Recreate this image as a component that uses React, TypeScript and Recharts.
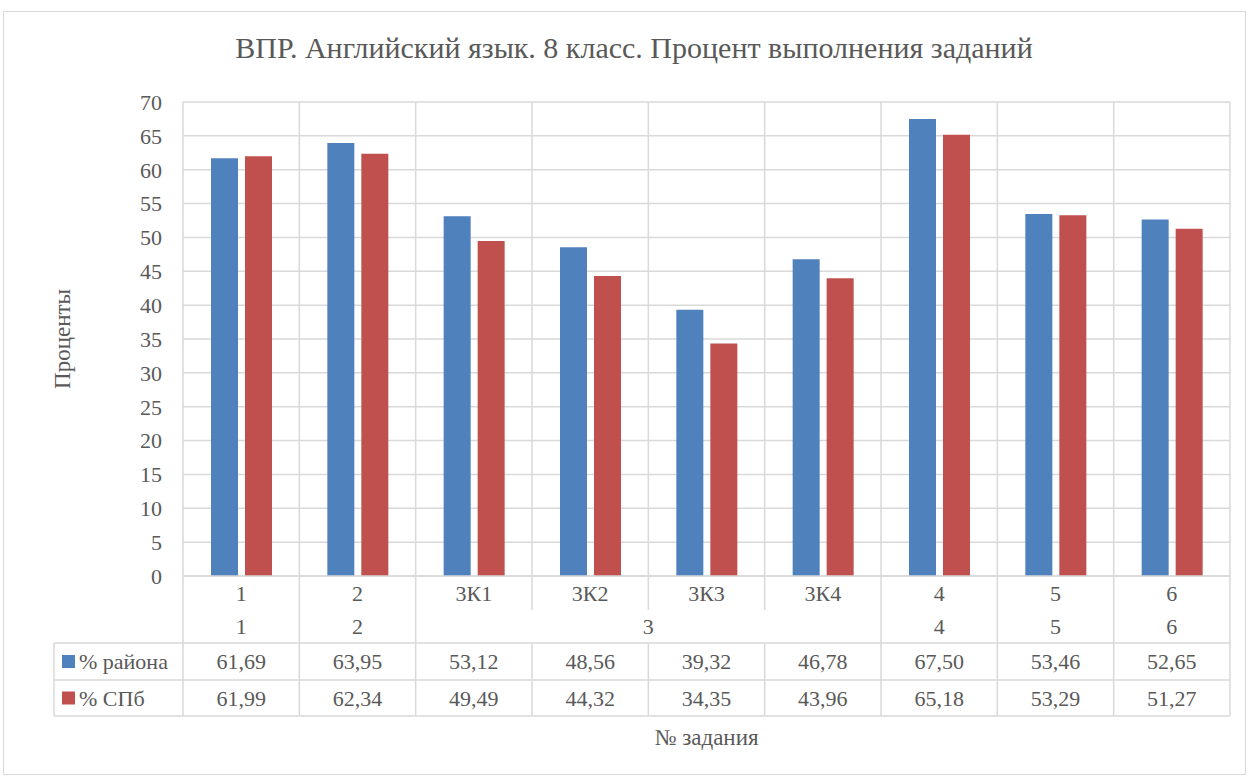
// ВПР chart: grouped bars with an Excel-style data table under the axis
import { BarChart, Bar, XAxis, YAxis, CartesianGrid } from "recharts";

const tasks = ["1", "2", "3К1", "3К2", "3К3", "3К4", "4", "5", "6"];
const taskGroups = ["1", "2", "3", "3", "3", "3", "4", "5", "6"];
const districtPct = [61.69, 63.95, 53.12, 48.56, 39.32, 46.78, 67.5, 53.46, 52.65];
const spbPct = [61.99, 62.34, 49.49, 44.32, 34.35, 43.96, 65.18, 53.29, 51.27];
const yTicks = [0, 5, 10, 15, 20, 25, 30, 35, 40, 45, 50, 55, 60, 65, 70];

const seriesNames = ["% района", "% СПб"];
const BLUE = "#4F81BD";
const RED = "#C0504D";
const GRID = "#d9d9d9";
const TEXT = "#595959";
const FONT = "'Liberation Serif', Tinos, 'DejaVu Serif', 'Noto Serif', serif";

const W = 1248;
const H = 776;
const M = { top: 102, right: 18, bottom: 60, left: 103 };
const Y_AXIS_W = 80;
const PLOT_LEFT = M.left + Y_AXIS_W;
const PLOT_W = W - PLOT_LEFT - M.right;
const BAND = PLOT_W / tasks.length;

const data = tasks.map((t, i) => ({
  task: t,
  group: taskGroups[i],
  district: districtPct[i],
  spb: spbPct[i],
}));

const fmt = (v: number) => v.toFixed(2).replace(".", ",");

// table row edges, relative to the axis line
const ROW1 = 34;
const ROW2 = 67;
const ROW3 = 104;
const ROW4 = 140;

function TableTick(props: any) {
  const { x, y, payload } = props;
  const i = tasks.indexOf(payload.value);
  const left = x - BAND / 2;
  const right = x + BAND / 2;
  const line = { stroke: GRID, strokeWidth: 1.5 };
  const txt = { fill: TEXT, fontSize: 22, fontFamily: FONT, textAnchor: "middle" as const, dy: "0.35em" };
  const groupStart = i === 0 || taskGroups[i] !== taskGroups[i - 1];
  let groupEnd = i;
  while (groupEnd + 1 < tasks.length && taskGroups[groupEnd + 1] === taskGroups[i]) groupEnd++;
  const last = i === tasks.length - 1;

  return (
    <g>
      {/* row 1: task labels */}
      {i === 0 && <line x1={left} x2={left} y1={y} y2={y + ROW1} {...line} />}
      <line x1={right} x2={right} y1={y} y2={y + ROW1} {...line} />
      <text x={x} y={y + ROW1 / 2} {...txt}>{tasks[i]}</text>
      {/* row 2: task groups */}
      {groupStart && <line x1={left} x2={left} y1={y + ROW1} y2={y + ROW2} {...line} />}
      {last && <line x1={right} x2={right} y1={y + ROW1} y2={y + ROW2} {...line} />}
      {groupStart && (
        <text x={left + ((groupEnd - i + 1) * BAND) / 2} y={y + (ROW1 + ROW2) / 2} {...txt}>
          {taskGroups[i]}
        </text>
      )}
      {/* data rows */}
      <line x1={left} x2={right} y1={y + ROW2} y2={y + ROW2} {...line} />
      <line x1={left} x2={right} y1={y + ROW3} y2={y + ROW3} {...line} />
      <line x1={left} x2={right} y1={y + ROW4} y2={y + ROW4} {...line} />
      {i === 0 && <line x1={left} x2={left} y1={y + ROW2} y2={y + ROW4} {...line} />}
      <line x1={right} x2={right} y1={y + ROW2} y2={y + ROW4} {...line} />
      <text x={x} y={y + (ROW2 + ROW3) / 2} {...txt}>{fmt(districtPct[i])}</text>
      <text x={x} y={y + (ROW3 + ROW4) / 2} {...txt}>{fmt(spbPct[i])}</text>
      {/* header column with legend keys */}
      {i === 0 && (
        <g>
          <line x1={54} x2={left} y1={y + ROW2} y2={y + ROW2} {...line} />
          <line x1={54} x2={left} y1={y + ROW3} y2={y + ROW3} {...line} />
          <line x1={54} x2={left} y1={y + ROW4} y2={y + ROW4} {...line} />
          <line x1={54} x2={54} y1={y + ROW2} y2={y + ROW4} {...line} />
          {[BLUE, RED].map((c, k) => {
            const cy = y + (k === 0 ? (ROW2 + ROW3) / 2 : (ROW3 + ROW4) / 2);
            return (
              <g key={c}>
                <rect x={62} y={cy - 6.5} width={13} height={13} fill={c} />
                <text x={79} y={cy} fill={TEXT} fontSize={22} fontFamily={FONT} dy="0.35em">
                  {seriesNames[k]}
                </text>
              </g>
            );
          })}
        </g>
      )}
    </g>
  );
}

function YLabel() {
  const cx = 62;
  const cy = (M.top + (H - M.bottom - 140)) / 2;
  return (
    <text
      x={cx}
      y={cy}
      transform={`rotate(-90 ${cx} ${cy})`}
      textAnchor="middle"
      dy="0.35em"
      fill={TEXT}
      fontSize={23}
      fontFamily={FONT}
    >
      Проценты
    </text>
  );
}

export default function App() {
  return (
    <div style={{ position: "absolute", left: 0, top: 0, width: W, height: H, background: "#fff", fontFamily: FONT }}>
      <div
        style={{
          position: "absolute",
          left: 3,
          top: 11,
          width: 1241,
          height: 762,
          border: `1px solid ${GRID}`,
        }}
      />
      <div
        style={{
          position: "absolute",
          left: 10,
          width: W,
          top: 31,
          textAlign: "center",
          fontSize: 30,
          color: TEXT,
        }}
      >
        ВПР. Английский язык. 8 класс. Процент выполнения заданий
      </div>
      <div
        style={{
          position: "absolute",
          left: PLOT_LEFT,
          width: PLOT_W,
          top: 725,
          textAlign: "center",
          fontSize: 23,
          color: TEXT,
        }}
      >
        № задания
      </div>
      <div style={{ position: "absolute", left: 0, top: 0 }}>
        <BarChart width={W} height={H} data={data} margin={M} barSize={27} barGap={7}>
          <CartesianGrid
            stroke={GRID}
            strokeWidth={1.5}
            verticalCoordinatesGenerator={({ offset }: any) =>
              tasks.map((_, i) => offset.left + i * BAND).concat(offset.left + offset.width)
            }
          />
          <XAxis
            dataKey="task"
            interval={0}
            height={140}
            tickLine={false}
            tickSize={0}
            tickMargin={0}
            axisLine={{ stroke: GRID, strokeWidth: 1.5 }}
            tick={<TableTick />}
          />
          <YAxis
            width={Y_AXIS_W}
            domain={[0, 70]}
            ticks={yTicks}
            interval={0}
            axisLine={false}
            tickLine={false}
            tickSize={0}
            tickMargin={21}
            tick={{ fill: TEXT, fontSize: 22, fontFamily: FONT }}
            label={<YLabel />}
          />
          <Bar dataKey="district" name={seriesNames[0]} fill={BLUE} isAnimationActive={false} />
          <Bar dataKey="spb" name={seriesNames[1]} fill={RED} isAnimationActive={false} />
        </BarChart>
      </div>
    </div>
  );
}
